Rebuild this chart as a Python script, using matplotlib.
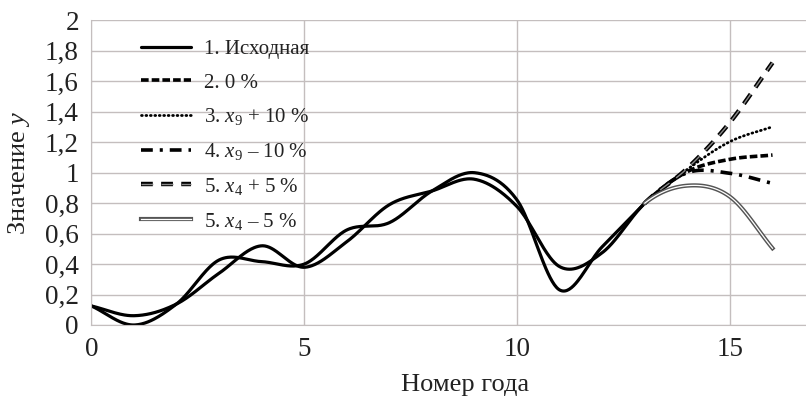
import numpy as np
import matplotlib
matplotlib.use("Agg")
import matplotlib.pyplot as plt
import matplotlib.patheffects as pe

# ---------------- data ----------------
years_hist = list(range(0, 14))
original = [0.125, 0.0, 0.138, 0.427, 0.416, 0.40, 0.624, 0.672, 0.88, 1.0, 0.82, 0.23, 0.514, 0.80]
model_hist = [0.125, 0.061, 0.138, 0.34, 0.52, 0.379, 0.547, 0.79, 0.88, 0.957, 0.777, 0.383, 0.475, 0.80]
years_fc = [14, 15, 16]
fc_zero = [1.007, 1.088, 1.116]        # 2. 0 %
fc_x9_plus = [1.022, 1.204, 1.302]     # 3. x9 + 10 %
fc_x9_minus = [1.0, 0.996, 0.93]       # 4. x9 - 10 %
fc_x4_plus = [1.029, 1.331, 1.722]     # 5. x4 + 5 %
fc_x4_minus = [0.915, 0.842, 0.504]    # 5. x4 - 5 %

labels = ["1. Исходная", "2. 0 %", "3. $x_9$ + 10 %", "4. $x_9$ – 10 %",
          "5. $x_4$ + 5 %", "5. $x_4$ – 5 %"]
xticks = [0, 5, 10, 15]
yticks = [0, 0.2, 0.4, 0.6, 0.8, 1.0, 1.2, 1.4, 1.6, 1.8, 2.0]
ytick_labels = ["0", "0,2", "0,4", "0,6", "0,8", "1", "1,2", "1,4", "1,6", "1,8", "2"]


def smooth(xs, ys, n=40):
    """Catmull-Rom smoothing (like spreadsheet smoothed lines)."""
    x = np.asarray(xs, float)
    y = np.asarray(ys, float)
    px = np.concatenate([[2 * x[0] - x[1]], x, [2 * x[-1] - x[-2]]])
    py = np.concatenate([[2 * y[0] - y[1]], y, [2 * y[-1] - y[-2]]])
    ox, oy = [], []
    t = np.linspace(0, 1, n, endpoint=False)
    for i in range(1, len(px) - 2):
        for arr, out in ((px, ox), (py, oy)):
            p0, p1, p2, p3 = arr[i - 1], arr[i], arr[i + 1], arr[i + 2]
            m1 = (p2 - p0) / 2
            m2 = (p3 - p1) / 2
            h00 = 2 * t**3 - 3 * t**2 + 1
            h10 = t**3 - 2 * t**2 + t
            h01 = -2 * t**3 + 3 * t**2
            h11 = t**3 - t**2
            out.extend(h00 * p1 + h10 * m1 + h01 * p2 + h11 * m2)
    ox.append(x[-1]); oy.append(y[-1])
    return np.array(ox), np.array(oy)


plt.rcParams["font.family"] = ["Liberation Serif", "DejaVu Serif"]
plt.rcParams["mathtext.fontset"] = "custom"
plt.rcParams["mathtext.rm"] = "Liberation Serif"
plt.rcParams["mathtext.it"] = "Liberation Serif:italic"
plt.rcParams["lines.scale_dashes"] = False

fig = plt.figure(figsize=(8.06, 4.03), dpi=100)
ax = fig.add_axes([91.4 / 806, 78 / 403, 1 - 91.4 / 806, (325 - 20.4) / 403])

ax.set_xlim(0, (806 - 91.4) / 42.57)
ax.set_ylim(0, 2)
ax.set_xticks(xticks)
ax.set_yticks(yticks)
ax.set_yticklabels(ytick_labels)
ax.grid(True, color="#c4bebe", linewidth=1.0)
ax.set_axisbelow(True)
for s in ["top", "right"]:
    ax.spines[s].set_visible(False)
for s in ["left", "bottom"]:
    ax.spines[s].set_color("#c4bebe")
ax.tick_params(length=0, labelsize=19.5, colors="#222222", pad=9)
ax.set_xlabel("Номер года", fontsize=19, color="#222222", labelpad=8)
ax.xaxis.label.set_x(0.523)
ax.set_ylabel("Значение $y$", fontsize=19, color="#222222", labelpad=9)

lw = 2.3
# original
xo, yo = smooth(years_hist, original)
l1, = ax.plot(xo, yo, color="black", lw=lw, solid_capstyle="round", label=labels[0])

# scenarios
yrs_all = years_hist + years_fc
styles = [
    dict(color="black", lw=2.6, dashes=(5.5, 2.2)),
    dict(color="black", lw=2.0, dashes=(0.6, 2.6), dash_capstyle="round"),
    dict(color="black", lw=2.6, dashes=(8.5, 5.0, 2.2, 5.0)),
    dict(color="#8a8a8a", lw=1.0, dashes=(8.5, 6.0),
         path_effects=[pe.Stroke(linewidth=3.2, foreground="black"), pe.Normal()]),
    dict(color="white", lw=0.9,
         path_effects=[pe.Stroke(linewidth=3.0, foreground="#555555"), pe.Normal()]),
]
fcs = [fc_zero, fc_x9_plus, fc_x9_minus, fc_x4_plus, fc_x4_minus]

# shared model history (solid)
xm, ym = smooth(yrs_all, model_hist + fc_zero)
mask = xm <= 13.0 + 1e-9
ax.plot(xm[mask], ym[mask], color="black", lw=lw, solid_capstyle="round")

handles = [l1]
for fc, st, lab in zip(fcs, styles, labels[1:]):
    xs, ys = smooth(yrs_all, model_hist + fc)
    m = xs >= 13.0 - 1e-9
    h, = ax.plot(xs[m], ys[m], label=lab, **st)
    handles.append(h)

leg = ax.legend(handles=handles, loc="upper left", bbox_to_anchor=(0.07, 0.937),
                frameon=False, fontsize=15, handlelength=2.4, handletextpad=0.6,
                labelspacing=0.66, borderaxespad=0, borderpad=0)
for t in leg.get_texts():
    t.set_color("#222222")

fig.savefig("out.png", dpi=100)
